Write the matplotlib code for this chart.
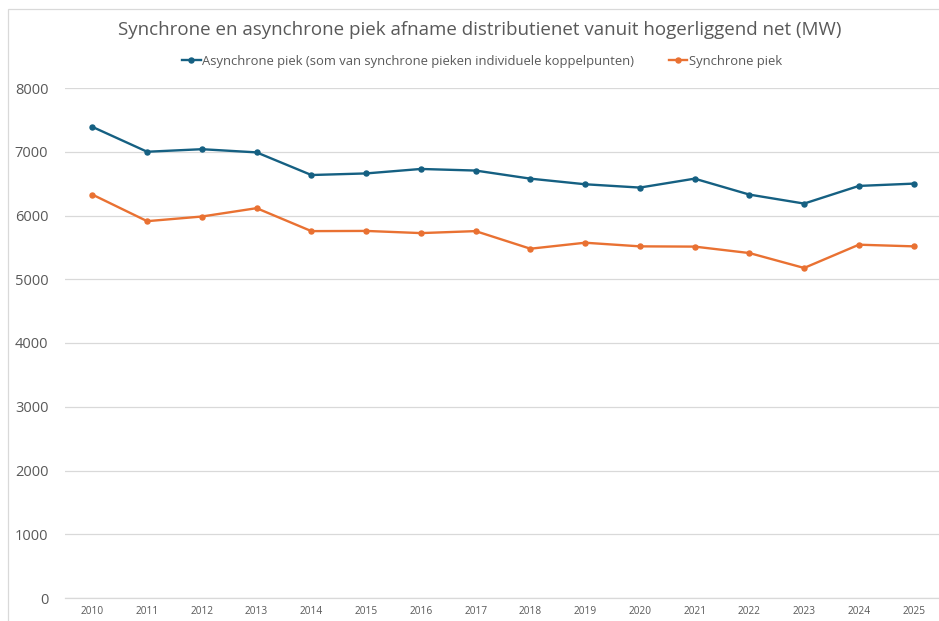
import matplotlib
matplotlib.use("Agg")
import matplotlib.pyplot as plt
from matplotlib.patches import Rectangle
from matplotlib.lines import Line2D

years = ["2010", "2011", "2012", "2013", "2014", "2015", "2016", "2017",
         "2018", "2019", "2020", "2021", "2022", "2023", "2024", "2025"]
asynchrone = [7390, 7000, 7040, 6990, 6635, 6660, 6730, 6705,
              6578, 6490, 6438, 6578, 6328, 6187, 6464, 6500]
synchrone = [6328, 5911, 5984, 6115, 5755, 5758, 5724, 5755,
             5479, 5573, 5516, 5512, 5411, 5177, 5542, 5516]
yticks = [0, 1000, 2000, 3000, 4000, 5000, 6000, 7000, 8000]

title = "Synchrone en asynchrone piek afname distributienet vanuit hogerliggend net (MW)"
label_async = "Asynchrone piek (som van synchrone pieken individuele koppelpunten)"
label_sync = "Synchrone piek"

BLUE = "#156082"
ORANGE = "#E97132"
TXT = "#595959"
GRID = "#D9D9D9"

W, H = 939, 621
fig = plt.figure(figsize=(W / 100, H / 100), dpi=100)
fig.patch.set_facecolor("white")

# chart frame
fig.patches.append(Rectangle((8 / W, -0.1), 1.2, (H - 9) / H + 0.1, transform=fig.transFigure,
                             fill=False, edgecolor=GRID, linewidth=0.9))

ax = fig.add_axes([65 / W, (H - 598) / H, (941 - 65) / W, (598 - 88) / H])
x = list(range(len(years)))
ax.plot(x, asynchrone, color=BLUE, linewidth=1.7, marker="o", markersize=3.6, label=label_async)
ax.plot(x, synchrone, color=ORANGE, linewidth=1.7, marker="o", markersize=3.6, label=label_sync)

ax.set_xlim(-0.5, len(years) - 0.5)
ax.set_ylim(0, 8000)
ax.set_yticks(yticks)
ax.set_yticklabels([str(v) for v in yticks])
ax.set_xticks(x)
ax.set_xticklabels(years)
ax.grid(axis="y", color=GRID, linewidth=0.9)
ax.set_axisbelow(True)
for s in ax.spines.values():
    s.set_visible(False)
ax.spines["bottom"].set_visible(True)
ax.spines["bottom"].set_color(GRID)
ax.spines["bottom"].set_linewidth(0.9)
ax.tick_params(axis="y", length=0, pad=12, labelsize=10.5, labelcolor=TXT)
ax.tick_params(axis="x", length=0, pad=6, labelsize=7.3, labelcolor=TXT)
for t in ax.get_yticklabels() + ax.get_xticklabels():
    t.set_fontfamily("Open Sans")

fig.text(480 / W, 1 - 30 / H, title, ha="center", va="center", fontsize=13.5,
         color=TXT, family="Open Sans")

h1 = Line2D([], [], color=BLUE, linewidth=1.7, marker="o", markersize=3.6)
h2 = Line2D([], [], color=ORANGE, linewidth=1.7, marker="o", markersize=3.6)
leg = fig.legend([h1, h2], [label_async, label_sync], loc="center",
                 bbox_to_anchor=(482 / W, 1 - 61 / H), ncol=2, frameon=False,
                 handlelength=1.4, handletextpad=0.1, columnspacing=2.7,
                 prop={"family": "Open Sans", "size": 9.4})
for t in leg.get_texts():
    t.set_color(TXT)

fig.savefig("out.png", dpi=100, facecolor="white")
